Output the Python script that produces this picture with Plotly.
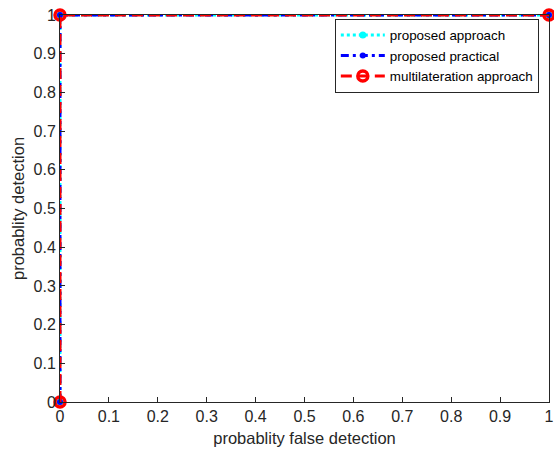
import plotly.graph_objects as go

x_vals = [0, 0, 1]
y_approach = [0, 1, 1]
y_practical = [0, 1, 1]
y_multi = [0, 1, 1]
ticks = [round(i * 0.1, 1) for i in range(11)]
tick_text = ["0", "0.1", "0.2", "0.3", "0.4", "0.5", "0.6", "0.7", "0.8", "0.9", "1"]

FONT = "Liberation Sans, Arial"
fig = go.Figure()
fig.add_trace(go.Scatter(x=x_vals, y=y_approach, mode="lines+markers", name="proposed approach",
                         line=dict(color="#00FFFF", width=3, dash="dot"),
                         marker=dict(symbol="circle", size=7, color="#00FFFF"), cliponaxis=False))
fig.add_trace(go.Scatter(x=x_vals, y=y_practical, mode="lines+markers", name="proposed practical",
                         line=dict(color="#0000FF", width=3, dash="8px,4px,3px,4px"),
                         marker=dict(symbol="circle", size=6, color="#0000FF"), cliponaxis=False))
fig.add_trace(go.Scatter(x=x_vals, y=y_multi, mode="lines+markers", name="multilateration approach",
                         line=dict(color="#FF0000", width=3, dash="11px,6px"),
                         marker=dict(symbol="circle-open", size=10, color="#FF0000", line=dict(width=3.5, color="#FF0000")),
                         cliponaxis=False))

axis_common = dict(range=[0, 1], tickvals=ticks, ticktext=tick_text, showgrid=False, zeroline=False,
                   showline=True, linecolor="#262626", linewidth=1, mirror=True, ticks="inside",
                   ticklen=5, tickcolor="#262626", ticklabeloverflow="allow", automargin=False,
                   tickfont=dict(size=16, color="#262626", family=FONT))
fig.update_xaxes(**axis_common, title=dict(text="probablity false detection", standoff=8,
                 font=dict(size=16.5, color="#262626", family=FONT)))
fig.update_yaxes(**axis_common, title=dict(text="probablity detection", standoff=4,
                 font=dict(size=16.5, color="#262626", family=FONT)))

fig.update_layout(width=554, height=455, margin=dict(l=60, r=5, t=15, b=53, autoexpand=False),
                  plot_bgcolor="white", paper_bgcolor="white",
                  legend=dict(x=0.562, y=0.99, xanchor="left", yanchor="top",
                              bordercolor="#262626", borderwidth=1, bgcolor="white",
                              font=dict(size=13.4, color="black", family=FONT),
                              tracegroupgap=0, itemwidth=44))
fig.write_html("out.html")
